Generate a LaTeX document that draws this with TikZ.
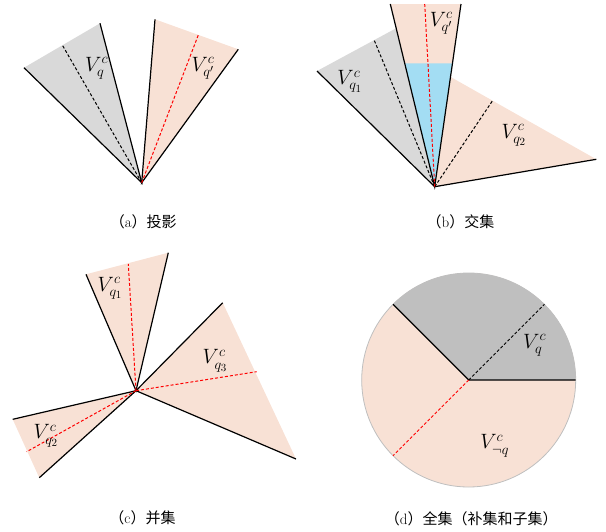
\documentclass[tikz,border=0pt]{standalone}
\usepackage{fontspec}
\newfontfamily\cjk{Noto Sans CJK SC}
\definecolor{pinkF}{HTML}{F8E1D5}
\definecolor{grayA}{HTML}{D9D9D9}
\definecolor{grayD}{HTML}{BFBFBF}
\definecolor{blueF}{HTML}{A3DDF3}
\begin{document}
\begin{tikzpicture}[x=1pt,y=-1pt,
  lbl/.style={font=\fontsize{22}{26}\selectfont, inner sep=0pt},
  captxt/.style={font=\fontsize{15}{18}\selectfont, inner sep=0pt},
  edge/.style={line width=1.2pt, black},
  rdash/.style={red, densely dashed, line width=1pt},
  kdash/.style={black, densely dashed, line width=1pt}]
\useasboundingbox (0,0) rectangle (606,531);
% ---------- (a)
\coordinate (A) at (141.7,182.7);
\coordinate (aL1) at (24,67.7); \coordinate (aR1) at (100,23.3); \coordinate (aD1) at (62.3,45);
\coordinate (aL2) at (155,19.3); \coordinate (aR2) at (238.3,49.3); \coordinate (aD2) at (198.3,35);
\fill[grayA] (A) -- (aL1) -- (aR1) -- cycle;
\fill[pinkF] (A) -- (aL2) -- (aR2) -- cycle;
\draw[edge] (aL1) -- (A) -- (aR1);
\draw[edge] (aL2) -- (A) -- (aR2);
\draw[kdash] (A) -- (aD1);
\draw[rdash] (A) -- (aD2);
\node[lbl] (la1) at (96.7,68) {$V^c_q$};
\node[lbl] (la2) at (203,68) {$V^c_{q'}$};
\node[captxt] (capa) at (143.3,221.7) {{\cjk （}a{\cjk ）投影}};
% ---------- (b)
\coordinate (B) at (434.7,186.7);
\coordinate (bL1) at (317,71); \coordinate (bR1) at (396,28.3); \coordinate (bD1) at (373.7,39);
\coordinate (bL0) at (390.3,4); \coordinate (bR0) at (461,4); \coordinate (bD0) at (424.7,4);
\coordinate (bU2) at (450.2,76.7); \coordinate (bF2) at (596.3,159.3); \coordinate (bD2) at (493,100);
\coordinate (bbl) at (404.5,63.3); \coordinate (bbr) at (452.4,63.3);
\fill[grayA] (B) -- (bL1) -- (bR1) -- cycle;
\fill[pinkF] (B) -- (bU2) -- (bF2) -- cycle;
\fill[pinkF] (B) -- (bL0) -- (bR0) -- cycle;
\fill[blueF] (B) -- (bbl) -- (bbr) -- cycle;
\draw[edge] (bL1) -- (B);
\draw[edge] (bL0) -- (B) -- (bR0);
\draw[edge] (B) -- (bF2);
\draw[kdash] (B) -- (bD1);
\draw[kdash] (B) -- (bD2);
\draw[rdash] (B) -- (bD0);
\node[lbl] (lb0) at (441.3,23.3) {$V^c_{q'}$};
\node[lbl] (lb1) at (349.7,81.7) {$V^c_{q_1}$};
\node[lbl] (lb2) at (513.8,135) {$V^c_{q_2}$};
\node[captxt] (capb) at (460.5,221.7) {{\cjk （}b{\cjk ）交集}};
% ---------- (c)
\coordinate (C) at (136,390.7);
\coordinate (c1a) at (86,274.3); \coordinate (c1b) at (168.3,252.7); \coordinate (c1d) at (128.3,264);
\coordinate (c3a) at (222.7,302.7); \coordinate (c3b) at (296,459); \coordinate (c3d) at (256.7,371.7);
\coordinate (c2a) at (12.7,419.3); \coordinate (c2b) at (39.3,477.7); \coordinate (c2d) at (26.7,451.7);
\fill[pinkF] (C) -- (c1a) -- (c1b) -- cycle;
\fill[pinkF] (C) -- (c3a) -- (c3b) -- cycle;
\fill[pinkF] (C) -- (c2a) -- (c2b) -- cycle;
\draw[edge] (c1a) -- (C) -- (c1b);
\draw[edge] (c3a) -- (C) -- (c3b);
\draw[edge] (c2a) -- (C) -- (c2b);
\draw[rdash] (C) -- (c1d);
\draw[rdash] (C) -- (c3d);
\draw[rdash] (C) -- (c2d);
\node[lbl] (lc1) at (110,288.3) {$V^c_{q_1}$};
\node[lbl] (lc3) at (215,360.8) {$V^c_{q_3}$};
\node[lbl] (lc2) at (45.8,435.8) {$V^c_{q_2}$};
\node[captxt] (capc) at (142.5,517.5) {{\cjk （}c{\cjk ）并集}};
% ---------- (d)
\coordinate (D) at (468.7,380);
\coordinate (d0) at (575.7,380); \coordinate (d45) at (544.4,304.3);
\coordinate (d135) at (393,304.3); \coordinate (d225) at (393,455.7);
\fill[pinkF] (D) circle[radius=107pt];
\fill[grayD] (D) -- (d0) arc[start angle=0,end angle=135,radius=107pt] -- cycle;
\draw[black!25, line width=0.8pt] (D) circle[radius=107pt];
\draw[edge] (d135) -- (D) -- (d0);
\draw[kdash] (D) -- (d45);
\draw[rdash] (D) -- (d225);
\node[lbl] (ld1) at (534.7,345) {$V^c_q$};
\node[lbl] (ld2) at (494.7,445.8) {$V^c_{\neg q}$};
\node[captxt] (capd) at (471.3,519) {{\cjk （}d{\cjk ）全集（补集和子集）}};
\end{tikzpicture}
\end{document}
